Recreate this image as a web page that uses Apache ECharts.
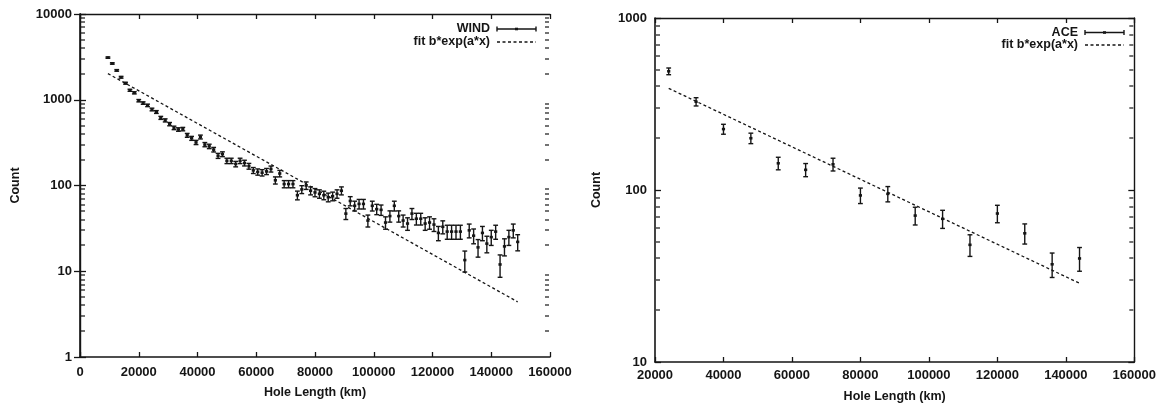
<!DOCTYPE html>
<html>
<head>
<meta charset="utf-8">
<script src="https://cdn.jsdelivr.net/npm/echarts@6/dist/echarts.min.js"></script>
<style>
html,body{margin:0;padding:0;background:#fff;}
#chart{width:1159px;height:409px;}
</style>
</head>
<body>
<div id="chart"></div>
<script>
// ---------- DATA ----------
const windX = [9500, 11000, 12500, 14000, 15500, 17000, 18500, 20000, 21500, 23000,
  24500, 26000, 27500, 29000, 30500, 32000, 33500, 35000, 36500, 38000,
  39500, 41000, 42500, 44000, 45500, 47000, 48500, 50000, 51500, 53000,
  54500, 56000, 57500, 59000, 60500, 62000, 63500, 65000, 66500, 68000,
  69500, 71000, 72500, 74000, 75500, 77000, 78500, 80000, 81500, 83000,
  84500, 86000, 87500, 89000, 90500, 92000, 93500, 95000, 96500, 98000,
  99500, 101000, 102500, 104000, 105500, 107000, 108500, 110000, 111500, 113000,
  114500, 116000, 117500, 119000, 120500, 122000, 123500, 125000, 126500, 128000,
  129500, 131000, 132500, 134000, 135500, 137000, 138500, 140000, 141500, 143000,
  144500, 146000, 147500, 149000];
const windY = [3100, 2650, 2200, 1830, 1560, 1290, 1205, 975, 915, 860,
  770, 720, 615, 575, 520, 470, 450, 455, 385, 355,
  318, 368, 300, 286, 262, 222, 232, 194, 194, 178,
  194, 183, 168, 150, 144, 141, 146, 156, 115, 138,
  104, 104, 104, 77, 90, 100, 87, 83, 80, 77,
  73, 75, 80, 87, 47, 66, 58, 61, 61, 39,
  58, 53, 52, 37, 44, 58, 44, 39, 36, 47,
  41, 41, 36, 37, 35, 28, 33, 29, 29, 29,
  29, 13.5, 30, 26, 19, 28, 21, 25, 29, 12,
  19.5, 25, 30, 22];
const windErr = [56, 51, 47, 43, 39, 36, 35, 31, 30, 29,
  28, 27, 25, 24, 23, 22, 21, 21, 20, 19,
  18, 19, 17, 17, 16, 15, 15, 14, 14, 13,
  14, 14, 13, 12, 12, 12, 12, 12.5, 11, 12,
  10, 10, 10, 9, 9.5, 10, 9.3, 9.1, 9, 8.8,
  8.5, 8.7, 9, 9.3, 6.9, 8.1, 7.6, 7.8, 7.8, 6.2,
  7.6, 7.3, 7.2, 6.1, 6.6, 7.6, 6.6, 6.2, 6, 6.9,
  6.4, 6.4, 6, 6.1, 5.9, 5.3, 5.7, 5.4, 5.4, 5.4,
  5.4, 3.7, 5.5, 5.1, 4.4, 5.3, 4.6, 5, 5.4, 3.5,
  4.4, 5, 5.5, 4.7];
const windFitX = [9500, 149000];
const windFitY = [2020, 4.4];

const aceX = [24000, 32000, 40000, 48000, 56000, 64000, 72000, 80000,
  88000, 96000, 104000, 112000, 120000, 128000, 136000, 144000];
const aceY = [490, 326, 226, 200, 143, 131, 141, 93, 95, 71, 68, 48, 73, 56, 37, 40];
const aceErr = [22, 18, 15, 14, 12, 11.5, 12, 9.6, 9.7, 8.4, 8.2, 6.9, 8.5, 7.5, 6, 6.3];
const aceFitX = [24000, 144000];
const aceFitY = [390, 28.7];

const leftXTicks = {min: 0, max: 160000, interval: 20000};
const rightXTicks = {min: 20000, max: 160000, interval: 20000};
const leftYRange = {min: 1, max: 10000};
const rightYRange = {min: 10, max: 1000};
const leftMinorY = [2,3,4,5,6,7,8,9,20,30,40,50,60,70,80,90,200,300,400,500,600,700,800,900,2000,3000,4000,5000,6000,7000,8000,9000];
const rightMinorY = [20,30,40,50,60,70,80,90,200,300,400,500,600,700,800,900];

const xName = 'Hole Length (km)';
const yName = 'Count';
const FIT = 'fit b*exp(a*x)';

// ---------- HELPERS ----------
const INK = '#151515';
const FONT = "'Liberation Sans', Arial, sans-serif";

function errData(xs, ys, es) {
  return xs.map((x, i) => [x, ys[i], ys[i] - es[i], ys[i] + es[i]]);
}
function pairs(xs, ys) { return xs.map((x, i) => [x, ys[i]]); }

function renderErr(params, api) {
  const x = api.value(0), y = api.value(1), lo = api.value(2), hi = api.value(3);
  const pl = api.coord([x, lo]), ph = api.coord([x, hi]), pc = api.coord([x, y]);
  const w = 2.4;
  const st = {stroke: INK, lineWidth: 1.4};
  return {type: 'group', children: [
    {type: 'line', shape: {x1: pl[0], y1: pl[1], x2: ph[0], y2: ph[1]}, style: st},
    {type: 'line', shape: {x1: pl[0] - w, y1: pl[1], x2: pl[0] + w, y2: pl[1]}, style: st},
    {type: 'line', shape: {x1: ph[0] - w, y1: ph[1], x2: ph[0] + w, y2: ph[1]}, style: st},
    {type: 'rect', shape: {x: pc[0] - 1.6, y: pc[1] - 1.3, width: 3.2, height: 2.6}, style: {fill: INK}}
  ]};
}

// side: 0 = left edge, 1 = right edge
function minorRenderer(side) {
  return function (params, api) {
    const cs = params.coordSys;
    const p = api.coord([api.value(0), api.value(1)]);
    const yy = Math.round(p[1]);
    const x0 = side === 0 ? cs.x + 1 : cs.x + cs.width - 5;
    return {type: 'rect', shape: {x: x0, y: yy - 0.6, width: 4, height: 1.2}, style: {fill: INK}};
  };
}

function xAxes(grid, ticks, labelMargin, nameGap) {
  return [
    {gridIndex: grid, type: 'value', min: ticks.min, max: ticks.max, interval: ticks.interval,
     name: xName, nameLocation: 'middle', nameGap: nameGap,
     nameTextStyle: {fontFamily: FONT, fontWeight: 'bold', fontSize: 12.5, color: INK},
     axisLine: {show: true, lineStyle: {color: INK, width: 1.6}},
     axisTick: {show: true, inside: true, length: 5, lineStyle: {color: INK, width: 1.3}},
     axisLabel: {show: true, margin: labelMargin, fontFamily: FONT, fontWeight: 'bold', fontSize: 13, color: INK,
       formatter: v => String(v)},
     splitLine: {show: false}},
    {gridIndex: grid, type: 'value', position: 'top', min: ticks.min, max: ticks.max, interval: ticks.interval,
     axisLine: {show: true, lineStyle: {color: INK, width: 1.4}},
     axisTick: {show: true, inside: true, length: 5, lineStyle: {color: INK, width: 1.3}},
     axisLabel: {show: false}, splitLine: {show: false}}
  ];
}
function yAxes(grid, range, nameGap) {
  return [
    {gridIndex: grid, type: 'log', logBase: 10, min: range.min, max: range.max,
     name: yName, nameLocation: 'middle', nameGap: nameGap, nameRotate: 90,
     nameTextStyle: {fontFamily: FONT, fontWeight: 'bold', fontSize: 12.5, color: INK},
     axisLine: {show: true, lineStyle: {color: INK, width: 1.6}},
     axisTick: {show: true, inside: true, length: 6, lineStyle: {color: INK, width: 1.3}},
     axisLabel: {show: true, margin: 8, fontFamily: FONT, fontWeight: 'bold', fontSize: 13, color: INK,
       formatter: v => String(Math.round(v))},
     splitLine: {show: false}},
    {gridIndex: grid, type: 'log', logBase: 10, min: range.min, max: range.max, position: 'right',
     axisLine: {show: true, lineStyle: {color: INK, width: 1.4}},
     axisTick: {show: true, inside: true, length: 6, lineStyle: {color: INK, width: 1.3}},
     axisLabel: {show: false}, splitLine: {show: false}}
  ];
}

function legendGraphic(textRight, x1, x2, y1, y2, label) {
  const st = {stroke: INK, lineWidth: 1.4};
  const tf = {fontFamily: FONT, fontWeight: 'bold', fontSize: 12.5, fill: INK, align: 'right', verticalAlign: 'middle'};
  const mid = (x1 + x2) / 2;
  return [
    {type: 'text', x: textRight, y: y1, style: Object.assign({text: label}, tf)},
    {type: 'line', shape: {x1: x1, y1: y1, x2: x2, y2: y1}, style: st},
    {type: 'line', shape: {x1: x1, y1: y1 - 2.5, x2: x1, y2: y1 + 2.5}, style: st},
    {type: 'line', shape: {x1: x2, y1: y1 - 2.5, x2: x2, y2: y1 + 2.5}, style: st},
    {type: 'rect', shape: {x: mid - 1.5, y: y1 - 1.3, width: 3, height: 2.6}, style: {fill: INK}},
    {type: 'text', x: textRight, y: y2, style: Object.assign({text: FIT}, tf)},
    {type: 'line', shape: {x1: x1, y1: y2, x2: x2, y2: y2}, style: {stroke: INK, lineWidth: 1.3, lineDash: [3, 2.5]}}
  ];
}

function minorSeries(xi, yi, xmin, values, side) {
  return {type: 'custom', xAxisIndex: xi, yAxisIndex: yi, renderItem: minorRenderer(side), silent: true,
    clip: false, data: values.map(v => [xmin, v]), encode: {x: 0, y: 1}, z: 10};
}

const chart = echarts.init(document.getElementById('chart'), null, {renderer: 'canvas'});
const option = {
  backgroundColor: '#ffffff',
  animation: false,
  grid: [
    {left: 80, top: 14, width: 470, height: 343},
    {left: 655, top: 18, width: 481, height: 344}
  ],
  xAxis: [].concat(xAxes(0, leftXTicks, 9, 29), xAxes(1, rightXTicks, 7, 28)),
  yAxis: [].concat(yAxes(0, leftYRange, 58), yAxes(1, rightYRange, 52)),
  series: [
    {name: 'WIND', type: 'custom', xAxisIndex: 0, yAxisIndex: 0, renderItem: renderErr,
     data: errData(windX, windY, windErr), encode: {x: 0, y: [1, 2, 3]}, z: 3},
    {name: FIT, type: 'line', xAxisIndex: 0, yAxisIndex: 0, data: pairs(windFitX, windFitY),
     showSymbol: false, symbol: 'none', lineStyle: {color: INK, width: 1.3, type: [3, 2.5]}, z: 2},
    {name: 'ACE', type: 'custom', xAxisIndex: 2, yAxisIndex: 2, renderItem: renderErr,
     data: errData(aceX, aceY, aceErr), encode: {x: 0, y: [1, 2, 3]}, z: 3},
    {name: FIT + ' ', type: 'line', xAxisIndex: 2, yAxisIndex: 2, data: pairs(aceFitX, aceFitY),
     showSymbol: false, symbol: 'none', lineStyle: {color: INK, width: 1.3, type: [3, 2.5]}, z: 2},
    minorSeries(0, 0, leftXTicks.min, leftMinorY, 0),
    minorSeries(0, 0, leftXTicks.min, leftMinorY, 1),
    minorSeries(2, 2, rightXTicks.min, rightMinorY, 0),
    minorSeries(2, 2, rightXTicks.min, rightMinorY, 1)
  ],
  graphic: [].concat(
    legendGraphic(490, 497, 536, 29, 42, 'WIND'),
    legendGraphic(1078, 1085, 1124, 32.5, 45, 'ACE')
  )
};
chart.setOption(option);
</script>
</body>
</html>
